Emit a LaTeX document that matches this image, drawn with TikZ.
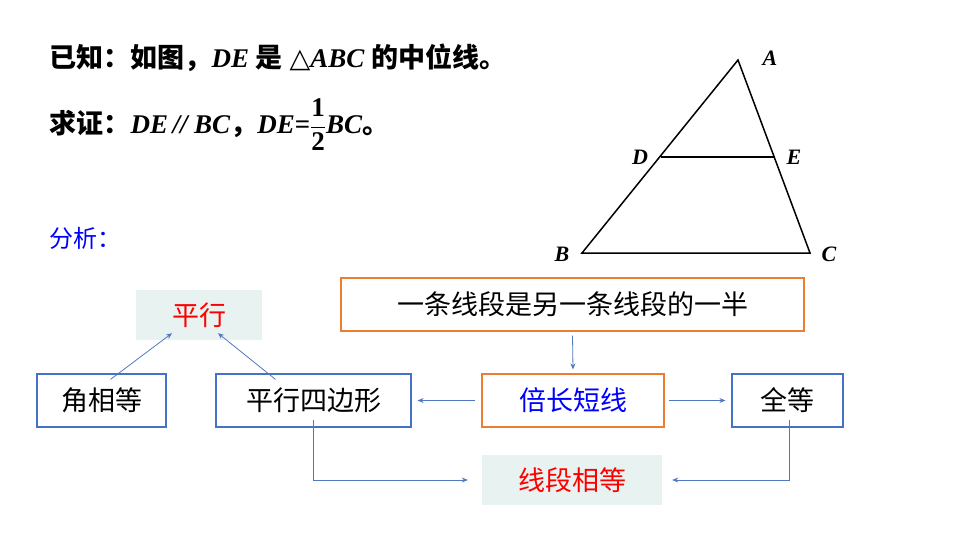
\documentclass[tikz,border=0pt]{standalone}
\usepackage{fontspec}
\setmainfont{Liberation Serif}
\newfontfamily\cjk{Noto Sans CJK SC}
\newfontfamily\dv{DejaVu Sans}
\usetikzlibrary{arrows.meta}
\definecolor{bx}{RGB}{68,114,196}
\definecolor{orb}{RGB}{237,125,49}
\definecolor{lt}{RGB}{232,242,240}
\definecolor{ar}{RGB}{80,120,190}
\begin{document}
\begin{tikzpicture}[x=1pt,y=-1pt,
  box/.style={draw=bx,line width=1.2pt,minimum height=53pt,inner sep=0pt,font=\cjk\fontsize{27}{30}\selectfont},
  obox/.style={box,draw=orb},
  fbox/.style={fill=lt,minimum height=50pt,inner sep=0pt,text=red,font=\cjk\fontsize{27}{30}\selectfont},
  arr/.style={draw=ar,line width=0.8pt,-{Stealth[length=6pt,width=5pt]}},
  tri/.style={line width=1.5pt},
  lab/.style={font=\bfseries\itshape\fontsize{22}{24}\selectfont}]
\useasboundingbox (0,0) rectangle (960,540);
% text
\node[anchor=west,font=\fontsize{27}{30}\selectfont] (t1) at (46,58) {{\cjk\bfseries 已知：如图，}\textbf{\textit{DE}} {\cjk\bfseries 是} \textbf{{\dv △}\textit{ABC}} {\cjk\bfseries 的中位线。}};
\node[anchor=west,font=\fontsize{27}{30}\selectfont] (t2) at (46,125) {{\cjk\bfseries 求证：}\textbf{\textit{DE}}\,\textbf{\textit{//}}\,\textbf{\textit{BC}}{\cjk\bfseries ，}\textbf{\textit{DE}}\textbf{=}$\displaystyle\mathbf{\frac{1}{2}}$\textbf{\textit{BC}}{\cjk\bfseries 。}};
\node[anchor=west,text=blue,font=\cjk\fontsize{24}{28}\selectfont] (t3) at (46,238) {分析：};
% triangle
\coordinate (A) at (738,60); \coordinate (B) at (582,253); \coordinate (C) at (810,253);
\coordinate (D) at (661,157); \coordinate (E) at (775,157);
\draw[tri] (A) -- (B) -- (C) -- cycle;
\draw[tri] (D) -- (E);
\node[lab] (lA) at (770,58) {A};
\node[lab] (lB) at (562,254) {B};
\node[lab] (lC) at (829,254) {C};
\node[lab] (lD) at (640,157) {D};
\node[lab] (lE) at (794,157) {E};
% boxes
\node[fbox,minimum width=126pt] (px) at (199,315) {平行};
\node[box,minimum width=129pt] (jx) at (101.5,400.5) {角相等};
\node[box,minimum width=195pt] (px4) at (313.5,400.5) {平行四边形};
\node[obox,minimum width=463pt] (top) at (572.5,304.5) {一条线段是另一条线段的一半};
\node[obox,minimum width=182pt,text=blue] (bc) at (573,400.5) {倍长短线};
\node[box,minimum width=111pt] (qd) at (787.5,400.5) {全等};
\node[fbox,minimum width=180pt] (xd) at (572,480) {线段相等};
% arrows
\draw[arr] ([xshift=9pt,yshift=-6pt]jx.north) -- ([xshift=-27pt,yshift=7pt]px.south);
\draw[arr] ([xshift=-38pt,yshift=-6pt]px4.north) -- ([xshift=19pt,yshift=7pt]px.south);
\draw[arr] ([yshift=-4pt]top.south) -- ([yshift=4pt]bc.north);
\draw[arr] ([xshift=-6pt]bc.west) -- ([xshift=6pt]px4.east);
\draw[arr] ([xshift=4pt]bc.east) -- ([xshift=-6pt]qd.west);
\draw[arr] ([yshift=8pt]px4.south) |- ([xshift=-14pt]xd.west);
\draw[arr] ([xshift=1.5pt,yshift=8pt]qd.south) |- ([xshift=10pt]xd.east);
\end{tikzpicture}
\end{document}
